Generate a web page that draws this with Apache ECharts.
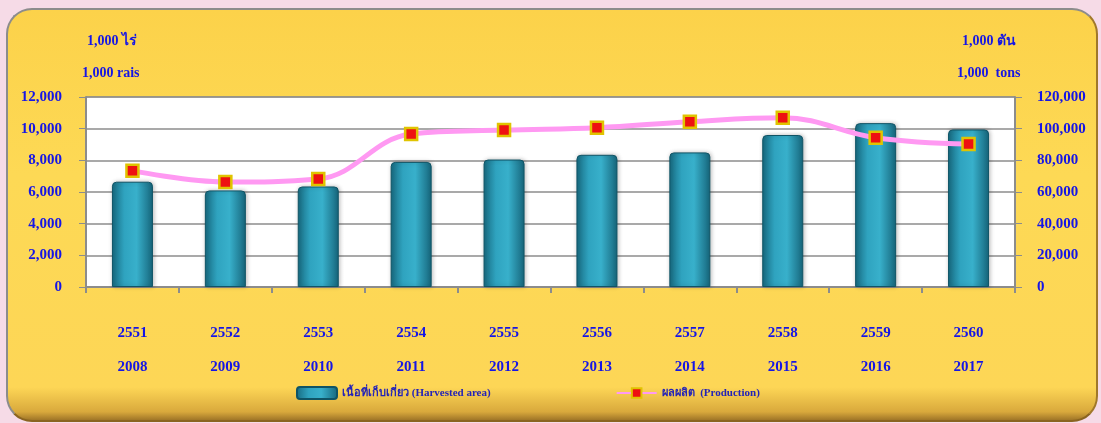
<!DOCTYPE html>
<html>
<head>
<meta charset="utf-8">
<script src="https://cdn.jsdelivr.net/npm/echarts@6/dist/echarts.min.js"></script>
<style>
	body{margin:0;background:#f6dbe7;width:1101px;height:423px;overflow:hidden;position:relative;}
	#panel{position:absolute;left:6px;top:8px;width:1088px;height:410px;border-radius:26px;
		border:2px solid #8c8c8c;border-right-color:#a0782a;border-bottom-color:#8a6420;
		background:linear-gradient(to bottom,#fcd24a 0%,#fdd955 40%,#fdd656 92%,#d9a93c 98%,#a07628 100%);}
	#main{position:absolute;left:0;top:0;width:1101px;height:423px;}
</style>
</head>
<body>
<div id="panel"></div>
<div id="main"></div>
<script>
	var thaiYears = ['2551','2552','2553','2554','2555','2556','2557','2558','2559','2560'];
	var years = ['2008','2009','2010','2011','2012','2013','2014','2015','2016','2017'];
	// 1,000 ไร่
	var area = [6650, 6100, 6350, 7900, 8050, 8350, 8500, 9600, 10350, 9950];
	// 1,000 ตัน
	var production = [73500, 66300, 68200, 96600, 99100, 100600, 104400, 106900, 94300, 90300];
	var leftTicks = [0, 2000, 4000, 6000, 8000, 10000, 12000];
	var rightTicks = [0, 20000, 40000, 60000, 80000, 100000, 120000];

	var blue = '#1515e6';
	var serif = '"Liberation Serif","Times New Roman","DejaVu Serif",serif';

	var cats = [];
	for (var i = 0; i < years.length; i++) {
		cats.push(thaiYears[i] + '\n' + years[i]);
	}

	function fmt(v){ return v.toLocaleString('en-US'); }

	var barColor = new echarts.graphic.LinearGradient(0, 0, 1, 0, [
		{offset: 0, color: '#176a80'},
		{offset: 0.3, color: '#2fa3bf'},
		{offset: 0.6, color: '#38b0cb'},
		{offset: 1, color: '#16657b'}
	]);

	var myChart = echarts.init(document.getElementById('main'));
	var option = {
		backgroundColor: 'transparent',
		animation: false,
		title: [
			{text: '1,000 ไร่', left: 82, top: 29, textStyle: {color: blue, fontFamily: serif, fontSize: 14, fontWeight: 'bold'}},
			{text: '1,000 rais', left: 77, top: 61, textStyle: {color: blue, fontFamily: serif, fontSize: 14, fontWeight: 'bold'}},
			{text: '1,000 ตัน', left: 957, top: 29, textStyle: {color: blue, fontFamily: serif, fontSize: 14, fontWeight: 'bold'}},
			{text: '1,000  tons', left: 952, top: 61, textStyle: {color: blue, fontFamily: serif, fontSize: 14, fontWeight: 'bold'}}
		],
		legend: {
			bottom: 18,
			left: 291,
			itemGap: 125,
			itemWidth: 40,
			itemHeight: 12,
			textStyle: {color: '#2323b8', fontFamily: serif, fontSize: 11, fontWeight: 'bold'},
			data: [
				{name: 'เนื้อที่เก็บเกี่ยว (Harvested area)'},
				{name: 'ผลผลิต  (Production)'}
			]
		},
		grid: {
			left: 86, right: 86, top: 97, bottom: 136,
			show: true, backgroundColor: '#ffffff', borderColor: '#8c8c8c', borderWidth: 1
		},
		xAxis: {
			type: 'category',
			data: cats,
			axisLine: {lineStyle: {color: '#8c8c8c', width: 2}},
			axisTick: {show: true, length: 6, lineStyle: {color: '#8c8c8c', width: 2}},
			axisLabel: {color: blue, fontFamily: serif, fontSize: 15, fontWeight: 'bold', lineHeight: 34, margin: 29}
		},
		yAxis: [
			{
				type: 'value', min: 0, max: 12000, interval: 2000,
				axisLine: {show: true, lineStyle: {color: '#8c8c8c', width: 2}},
				axisTick: {show: true, length: 7, lineStyle: {color: '#8c8c8c'}},
				splitLine: {lineStyle: {color: '#8c8c8c', width: 1.5}},
				axisLabel: {color: blue, fontFamily: serif, fontSize: 15, fontWeight: 'bold', margin: 24,
					formatter: function(v){ return leftTicks.indexOf(v) >= 0 ? fmt(v) : ''; }}
			},
			{
				type: 'value', min: 0, max: 120000, interval: 20000, position: 'right',
				axisLine: {show: true, lineStyle: {color: '#8c8c8c', width: 2}},
				axisTick: {show: true, length: 7, lineStyle: {color: '#8c8c8c'}},
				splitLine: {show: false},
				axisLabel: {color: blue, fontFamily: serif, fontSize: 15, fontWeight: 'bold', margin: 22,
					formatter: function(v){ return rightTicks.indexOf(v) >= 0 ? fmt(v) : ''; }}
			}
		],
		series: [
			{
				name: 'เนื้อที่เก็บเกี่ยว (Harvested area)',
				type: 'bar',
				barWidth: 41,
				data: area,
				itemStyle: {color: barColor, borderColor: '#0f5466', borderWidth: 1, borderRadius: [4, 4, 0, 0],
					shadowColor: 'rgba(0,0,0,0.25)', shadowBlur: 4, shadowOffsetX: 1}
			},
			{
				name: 'ผลผลิต  (Production)',
				type: 'line',
				yAxisIndex: 1,
				smooth: 0.4,
				data: production,
				symbol: 'rect',
				symbolSize: 12,
				lineStyle: {color: '#ff99f2', width: 5},
				itemStyle: {color: '#ee1111', borderColor: '#e0c400', borderWidth: 2.5}
			}
		]
	};
	myChart.setOption(option);
</script>
</body>
</html>
